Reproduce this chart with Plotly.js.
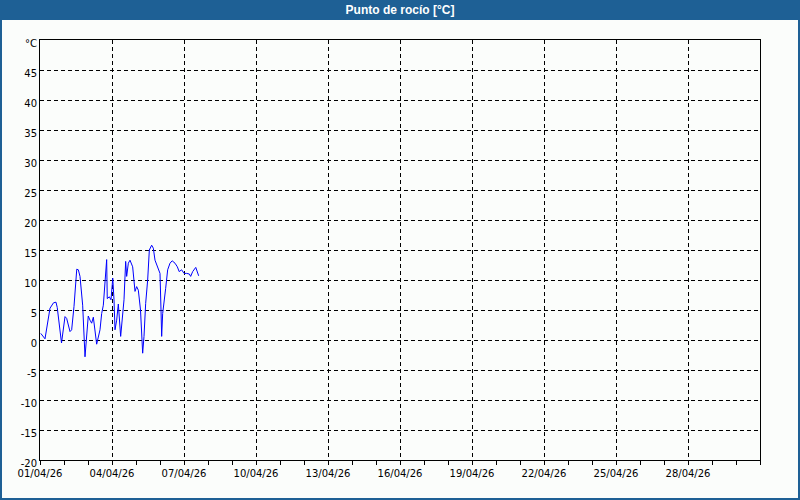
<!DOCTYPE html>
<html>
<head>
<meta charset="utf-8">
<script src="https://cdn.plot.ly/plotly-3.0.1.min.js"></script>
<style>
html,body{margin:0;padding:0;background:#fbfdfb;}
#chart{width:800px;height:500px;}
</style>
</head>
<body>
<div id="chart"></div>
<script>
var times = [
 '2026-04-01 00:45','2026-04-01 05:00','2026-04-01 10:00','2026-04-01 13:30','2026-04-01 16:00','2026-04-01 17:15','2026-04-01 21:30',
 '2026-04-02 01:00','2026-04-02 02:40','2026-04-02 06:00','2026-04-02 07:40','2026-04-02 10:00','2026-04-02 12:45','2026-04-02 14:20',
 '2026-04-02 16:00','2026-04-02 18:40','2026-04-02 21:00','2026-04-02 22:30',
 '2026-04-03 00:15','2026-04-03 02:00','2026-04-03 03:40','2026-04-03 05:20','2026-04-03 08:40','2026-04-03 12:00','2026-04-03 13:40',
 '2026-04-03 15:20','2026-04-03 17:00','2026-04-03 18:40','2026-04-03 19:15','2026-04-03 21:20','2026-04-03 23:00',
 '2026-04-04 00:45','2026-04-04 02:00','2026-04-04 03:00','2026-04-04 04:40','2026-04-04 06:20','2026-04-04 08:40','2026-04-04 12:00',
 '2026-04-04 13:40','2026-04-04 14:40','2026-04-04 16:20','2026-04-04 18:00','2026-04-04 20:40','2026-04-04 23:00',
 '2026-04-05 00:40','2026-04-05 02:20','2026-04-05 04:30','2026-04-05 06:40','2026-04-05 08:00','2026-04-05 09:40','2026-04-05 11:40',
 '2026-04-05 13:20','2026-04-05 15:40','2026-04-05 17:20','2026-04-05 19:00','2026-04-05 22:20',
 '2026-04-06 00:00','2026-04-06 01:00','2026-04-06 01:40','2026-04-06 02:40','2026-04-06 04:00','2026-04-06 05:40','2026-04-06 07:40',
 '2026-04-06 10:00','2026-04-06 12:10','2026-04-06 15:00','2026-04-06 17:20','2026-04-06 19:10','2026-04-06 21:40',
 '2026-04-07 00:00','2026-04-07 02:40','2026-04-07 05:20','2026-04-07 06:40','2026-04-07 08:40','2026-04-07 11:45','2026-04-07 12:40','2026-04-07 14:40'
];
var dewPoint = [
 1.1,0.2,5.3,6.2,6.3,5.4,-0.5,
 3.9,3.6,1.4,1.7,5.6,11.8,11.7,
 10.6,5.8,-2.8,0.8,
 4.0,3.3,2.8,3.8,-0.7,1.7,4.4,
 5.8,10.3,13.4,6.9,7.2,6.7,
 10.3,6.7,1.7,3.3,6.0,0.6,6.7,
 13.1,10.6,12.8,13.3,12.2,8.1,
 8.9,8.3,5.0,-2.2,0.6,6.1,10.0,
 15.0,15.8,15.3,13.3,11.7,
 11.1,5.0,0.6,4.4,6.7,8.6,11.7,
 12.8,13.2,12.8,12.2,11.4,11.7,
 11.1,11.1,11.0,10.6,11.4,12.1,11.7,10.7
];
var xTickVals = ['2026-04-01','2026-04-04','2026-04-07','2026-04-10','2026-04-13','2026-04-16','2026-04-19','2026-04-22','2026-04-25','2026-04-28'];
var xTickText = ['01/04/26','04/04/26','07/04/26','10/04/26','13/04/26','16/04/26','19/04/26','22/04/26','25/04/26','28/04/26'];
var yTickVals = [-20,-15,-10,-5,0,5,10,15,20,25,30,35,40,45,50];
var yTickText = ['-20','-15','-10','-5','0','5','10','15','20','25','30','35','40','45','°C'];
var chartTitle = 'Punto de rocío [°C]';

var blue = '#1e6095';
var trace = {
  x: times, y: dewPoint, type: 'scatter', mode: 'lines',
  line: {color: '#0000ff', width: 1}, hoverinfo: 'skip'
};
var W = 720, H = 420;
var layout = {
  width: 800, height: 500,
  margin: {l: 40, r: 40, t: 40, b: 40},
  paper_bgcolor: '#fbfdfb', plot_bgcolor: '#fbfdfb',
  showlegend: false,
  title: {text: chartTitle, x: 0.5, xanchor: 'center', y: 1 - 10/500, yanchor: 'middle', yref: 'container',
          font: {family: 'Liberation Sans, Arial, sans-serif', size: 12, color: '#ffffff', weight: 'bold'}},
  font: {family: 'DejaVu Sans, sans-serif', size: 10, color: '#000000'},
  xaxis: {
    type: 'date', range: ['2026-04-01', '2026-05-01'],
    tickmode: 'array', tickvals: xTickVals, ticktext: xTickText,
    ticks: 'outside', ticklen: 4, tickcolor: '#000',
    showline: true, linecolor: '#000', linewidth: 1, mirror: true,
    showgrid: true, gridcolor: '#000', gridwidth: 1, griddash: '4px,3px',
    zeroline: false,
    minor: {tickmode: 'linear', tick0: '2026-04-01', dtick: 86400000, ticks: 'outside', ticklen: 4, tickcolor: '#000', showgrid: false},
    tickfont: {family: 'DejaVu Sans, sans-serif', size: 10, color: '#000'}
  },
  yaxis: {
    range: [-20, 50], tickmode: 'array', tickvals: yTickVals, ticktext: yTickText,
    ticks: '', showline: true, linecolor: '#000', linewidth: 1, mirror: true,
    showgrid: true, gridcolor: '#000', gridwidth: 1, griddash: '4px,3px',
    zeroline: false, ticklabelshift: 3,
    tickfont: {family: 'DejaVu Sans, sans-serif', size: 10, color: '#000'}
  },
  shapes: [
    {type: 'rect', xref: 'paper', yref: 'paper', layer: 'above',
     x0: -39/W, x1: 759/W, y0: -39/H, y1: 1 + 39/H,
     line: {color: blue, width: 2}, fillcolor: 'rgba(0,0,0,0)'},
    {type: 'rect', xref: 'paper', yref: 'paper', layer: 'below',
     x0: -40/W, x1: 760/W, y0: 1 + 20/H, y1: 1 + 40/H,
     line: {width: 0}, fillcolor: blue}
  ]
};
Plotly.newPlot('chart', [trace], layout, {staticPlot: true, displayModeBar: false});
</script>
</body>
</html>
